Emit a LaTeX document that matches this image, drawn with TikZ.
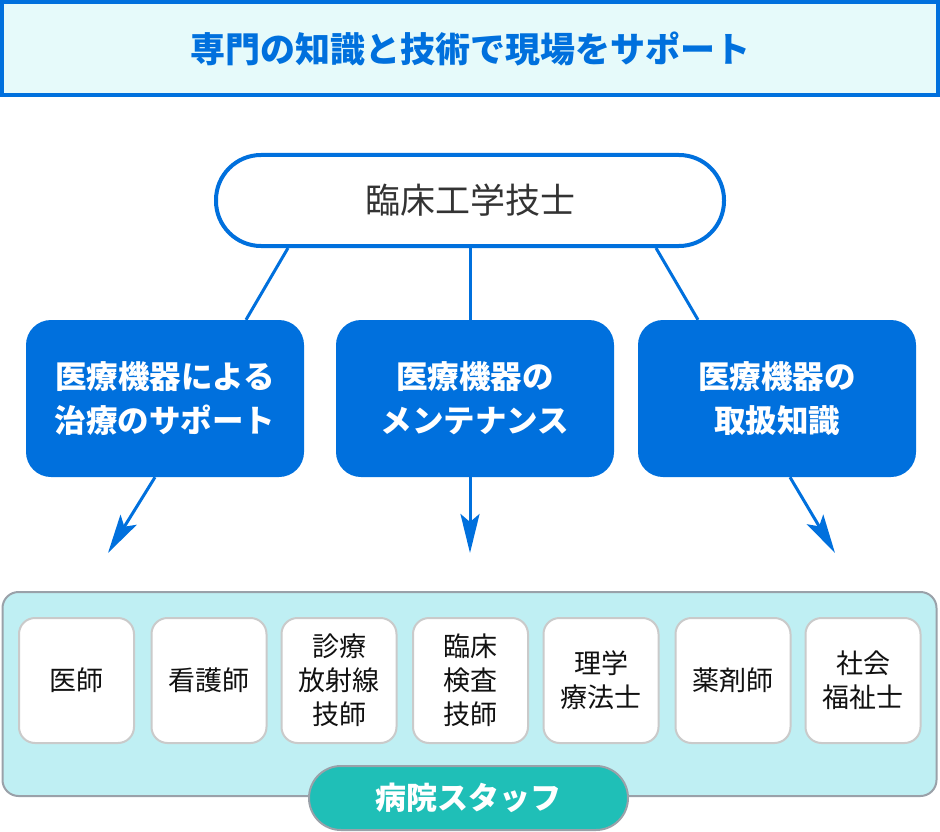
\documentclass[tikz,border=0pt]{standalone}
\usepackage{fontspec}
\setmainfont{Noto Sans CJK JP}
\usetikzlibrary{arrows.meta,positioning}

\definecolor{mainblue}{HTML}{0070DD}
\definecolor{titlefill}{HTML}{E6FAFA}
\definecolor{stafffill}{HTML}{BFEFF3}
\definecolor{stafftext}{HTML}{111111}
\definecolor{teal}{HTML}{1FBFB7}
\definecolor{framegray}{HTML}{9AA1A9}
\definecolor{boxgray}{HTML}{CACACA}
\definecolor{darktext}{HTML}{333333}

\tikzset{
  titlebox/.style={draw=mainblue, line width=4pt, fill=titlefill, text=mainblue,
    minimum width=936pt, minimum height=93pt, inner sep=0pt,
    font=\fontsize{35}{40}\selectfont\bfseries},
  engineer/.style={draw=mainblue, line width=4pt, fill=white, text=darktext,
    minimum width=508pt, minimum height=91pt, rounded corners=45pt, inner sep=0pt,
    font=\fontsize{35}{40}\selectfont},
  task/.style={fill=mainblue, text=white, minimum width=278pt, minimum height=157pt,
    rounded corners=25pt, inner sep=0pt, align=center,
    font=\fontsize{31.5}{44}\selectfont\bfseries},
  staffarea/.style={draw=framegray, line width=2pt, fill=stafffill,
    minimum width=934pt, minimum height=204pt, rounded corners=16pt},
  job/.style={draw=boxgray, line width=2pt, fill=white, text=stafftext,
    minimum width=115pt, minimum height=125pt, rounded corners=16pt, inner sep=0pt,
    align=center, font=\fontsize{27}{34}\selectfont},
  stafflabel/.style={draw=framegray, line width=2pt, fill=teal, text=white,
    minimum width=319pt, minimum height=64pt, rounded corners=32pt, inner sep=0pt,
    font=\fontsize{31}{34}\selectfont\bfseries},
  link/.style={draw=mainblue, line width=3pt},
  flow/.style={draw=mainblue, line width=3pt, -{Stealth[length=39pt, width=19pt, inset=8pt]}}
}

\begin{document}
\begin{tikzpicture}[x=1pt, y=-1pt]
  \useasboundingbox (0,0) rectangle (940,832);

  % title
  \node[titlebox] (title) at (470,48.5) {専門の知識と技術で現場をサポート};

  % engineer and tasks
  \node[engineer] (me) at (470,200.5) {臨床工学技士};
  \node[task] (care) at (165,398.5) {医療機器による\\治療のサポート};
  \node[task] (maint) at (475,398.5) {医療機器の\\メンテナンス};
  \node[task] (know) at (777,398.5) {医療機器の\\取扱知識};

  \draw[link] ([xshift=-182pt]me.south) -- ([xshift=81pt]care.north);
  \draw[link] (me.south) -- ([xshift=-5pt]maint.north);
  \draw[link] ([xshift=186pt]me.south) -- ([xshift=-79pt]know.north);

  % arrows down to the staff
  \coordinate (tipl) at (108,553);
  \coordinate (tipm) at (470,553);
  \coordinate (tipr) at (835,553);
  \draw[flow] ([xshift=-10pt]care.south) -- (tipl);
  \draw[flow] ([xshift=-5pt]maint.south) -- (tipm);
  \draw[flow] ([xshift=13pt]know.south) -- (tipr);

  % hospital staff
  \node[staffarea] (staff) at (469.5,694) {};
  \node[job] (doctor) at (76.5,680.5) {医師};
  \node[job] (nurse) at (209,680.5) {看護師};
  \node[job] (radio) at (339,680.5) {診療\\放射線\\技師};
  \node[job] (lab) at (470.5,680.5) {臨床\\検査\\技師};
  \node[job] (physio) at (601,680.5) {理学\\療法士};
  \node[job] (pharm) at (733,680.5) {薬剤師};
  \node[job] (social) at (863,680.5) {社会\\福祉士};
  \node[stafflabel] (hosp) at (468.5,798) {病院スタッフ};
\end{tikzpicture}
\end{document}
